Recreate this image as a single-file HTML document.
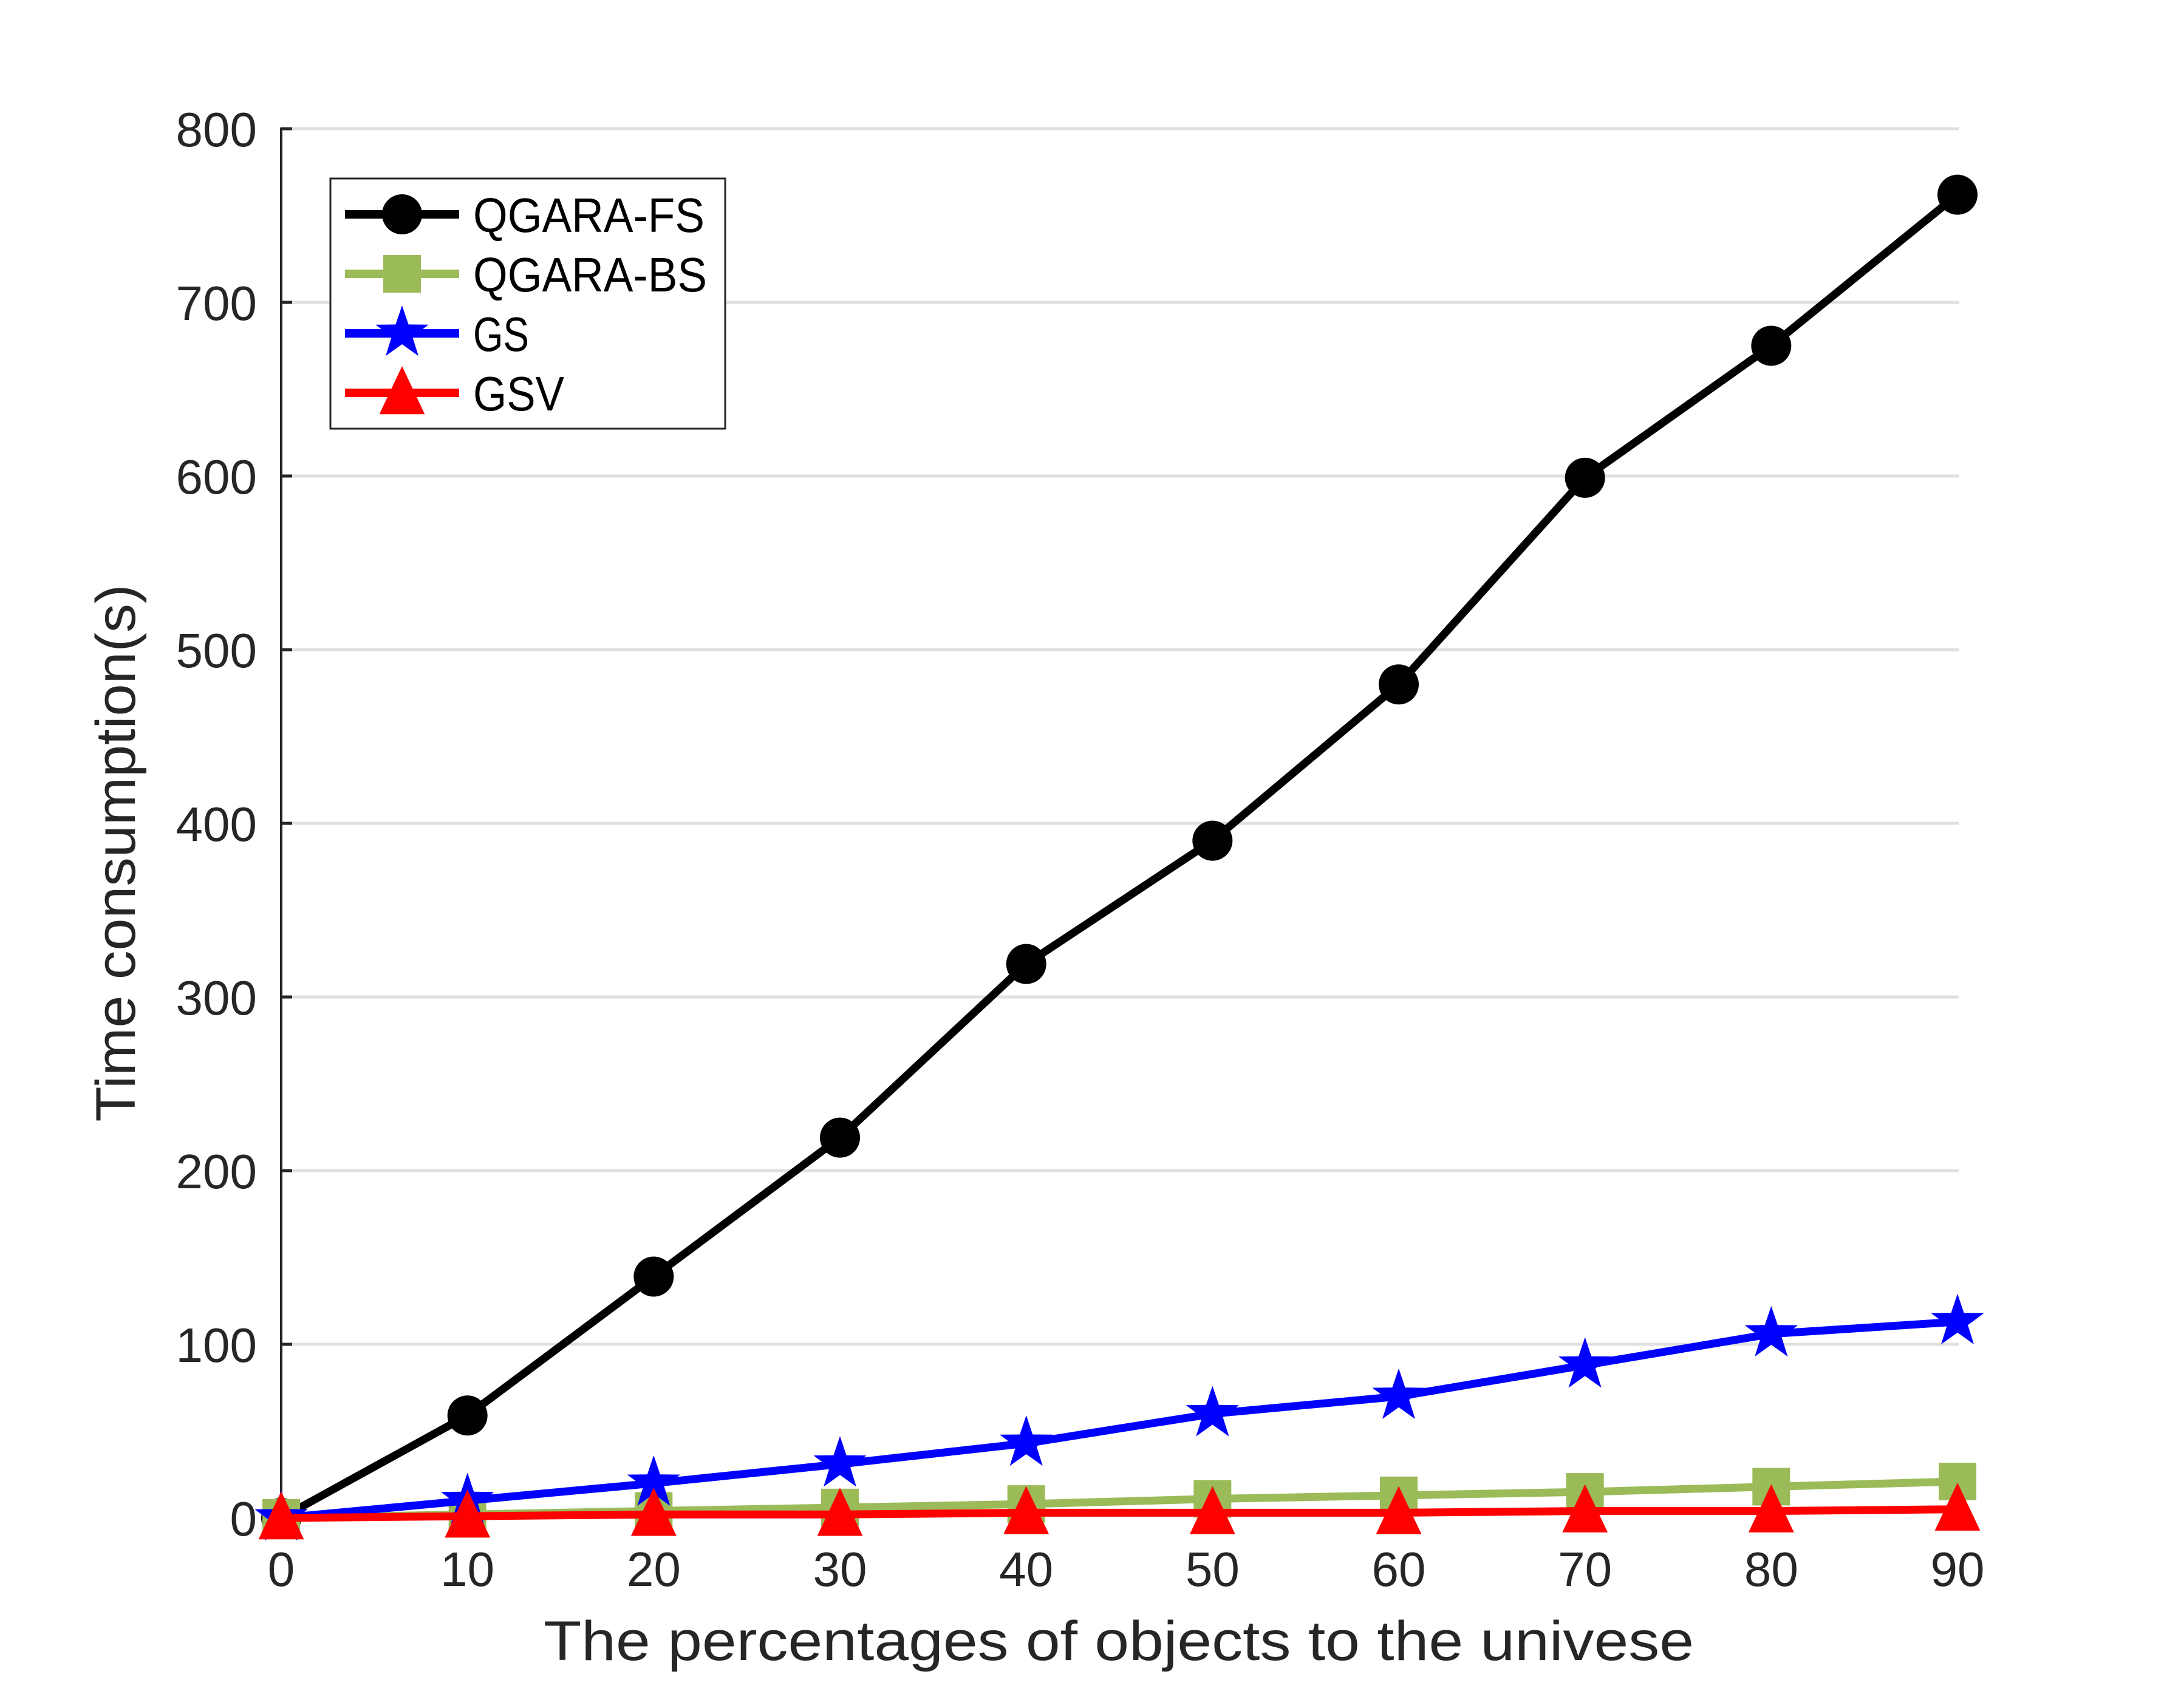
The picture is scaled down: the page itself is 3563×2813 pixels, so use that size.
<!DOCTYPE html>
<html><head><meta charset="utf-8"><style>
html,body{margin:0;padding:0;background:#fff;}
svg{display:block;}
text{font-family:"Liberation Sans","DejaVu Sans",sans-serif;fill:#262626;}
</style></head><body>
<svg id="chart" width="3563" height="2813" viewBox="0 0 3563 2813" xmlns="http://www.w3.org/2000/svg">
<g id="grid"></g>
<g id="axes"></g>
<g id="series"></g>
<text x="1842" y="2734" font-size="92" text-anchor="middle" textLength="1894" lengthAdjust="spacingAndGlyphs">The percentages of objects to the univese</text>
<text transform="translate(222,1405) rotate(-90)" font-size="92" text-anchor="middle" textLength="885" lengthAdjust="spacingAndGlyphs">Time consumption(s)</text>
<g id="legend">
<rect x="544" y="294" width="650" height="412" fill="#fff" stroke="#262626" stroke-width="3"/>
</g>
</svg>
<script>
const categories = [0,10,20,30,40,50,60,70,80,90];
const fsValues = [0,59,139,219,319,390,480,599,675,762];
const bsValues = [0,2,4,6,8,11,13,15,18,21];
const gsValues = [0,10,20,31,43,60,70,88,106,113];
const gsvValues = [0,1,2,2,3,3,3,4,4,5];
const yTicks = [0,100,200,300,400,500,600,700,800];
const xTickLabels = ["0","10","20","30","40","50","60","70","80","90"];
const seriesNames = ["QGARA-FS","QGARA-BS","GS","GSV"];

const NS="http://www.w3.org/2000/svg";
const X0=463,X1=3223,Y0=2500,Y1=212;
function xs(v){return X0+(v-0)/(90-0)*(X1-X0);}
function ys(v){return Y0-(v-0)/(800-0)*(Y0-Y1);}
function mk(tag,attrs,parent){const e=document.createElementNS(NS,tag);for(const k in attrs)e.setAttribute(k,attrs[k]);parent.appendChild(e);return e;}
const grid=document.getElementById('grid'),axes=document.getElementById('axes'),ser=document.getElementById('series'),leg=document.getElementById('legend');

yTicks.forEach(t=>{
  if(t>0){const g=mk('line',{x1:X0,x2:X1+2,y1:ys(t),y2:ys(t),stroke:'#e0e0e0','stroke-width':5},grid);
  
  }
  const tk=mk('line',{x1:X0,x2:X0+18,y1:ys(t),y2:ys(t),stroke:'#262626','stroke-width':5},axes);
  
  
  const lb=mk('text',{x:423,y:ys(t)+29,'font-size':80,'text-anchor':'end'},axes);
  lb.textContent=t;
  
  
});
const ya=mk('line',{x1:X0,x2:X0,y1:Y1-2,y2:Y0,stroke:'#262626','stroke-width':4},axes);


categories.forEach((c,i)=>{
  const lb=mk('text',{x:xs(c),y:2612,'font-size':80,'text-anchor':'middle'},axes);
  lb.textContent=xTickLabels[i];
  
  
});

function marker(type,cx,cy,color,parent,scale){
  scale=scale||1;let e;
  if(type==='circle'){e=mk('ellipse',{cx:cx,cy:cy,rx:33*scale,ry:33*scale,fill:color},parent);}
  else if(type==='square'){const s=31*scale;e=mk('rect',{x:cx-s,y:cy-s,width:2*s,height:2*s,fill:color},parent);}
  else if(type==='star'){const R=46*scale,r=18*scale;let p=[];for(let k=0;k<10;k++){const a=-Math.PI/2+k*Math.PI/5;const rr=k%2?r:R;p.push((cx+rr*Math.cos(a)).toFixed(1)+','+(cy+rr*Math.sin(a)).toFixed(1));}e=mk('polygon',{points:p.join(' '),fill:color},parent);}
  else {const h=44*scale;e=mk('polygon',{points:`${cx},${cy-h} ${cx+h*0.85},${cy+h*0.8} ${cx-h*0.85},${cy+h*0.8}`,fill:color},parent);}
  return e;
}
const defs=[[fsValues,'#000000','circle'],[bsValues,'#9bbb59','square'],[gsValues,'#0000ff','star'],[gsvValues,'#ff0000','triangle']];
const order=[0,1,2,3];
order.forEach(si=>{
  const [vals,color,type]=defs[si];
  const g=mk('g',{},ser);
  
  
  const pts=categories.map((c,i)=>xs(c)+','+ys(vals[i])).join(' ');
  const pl=mk('polyline',{points:pts,fill:'none',stroke:color,'stroke-width':13,'stroke-linejoin':'round'},g);
  
  
  categories.forEach((c,i)=>{
    const m=marker(type,xs(c),ys(vals[i]),color,g);
    
    
  });
  const ly=353+si*98;
  const le=mk('g',{},leg);
  
  
  mk('line',{x1:568,x2:756,y1:ly,y2:ly,stroke:color,'stroke-width':14},le);
  marker(type,662,ly,color,le,1);
  const t=mk('text',{x:779,y:ly+29,'font-size':80,fill:'#000',textLength:[381,385,92,150][si],lengthAdjust:'spacingAndGlyphs'},le);
  t.style.fill='#000';
  t.textContent=seriesNames[si];
});
</script>
</body></html>
